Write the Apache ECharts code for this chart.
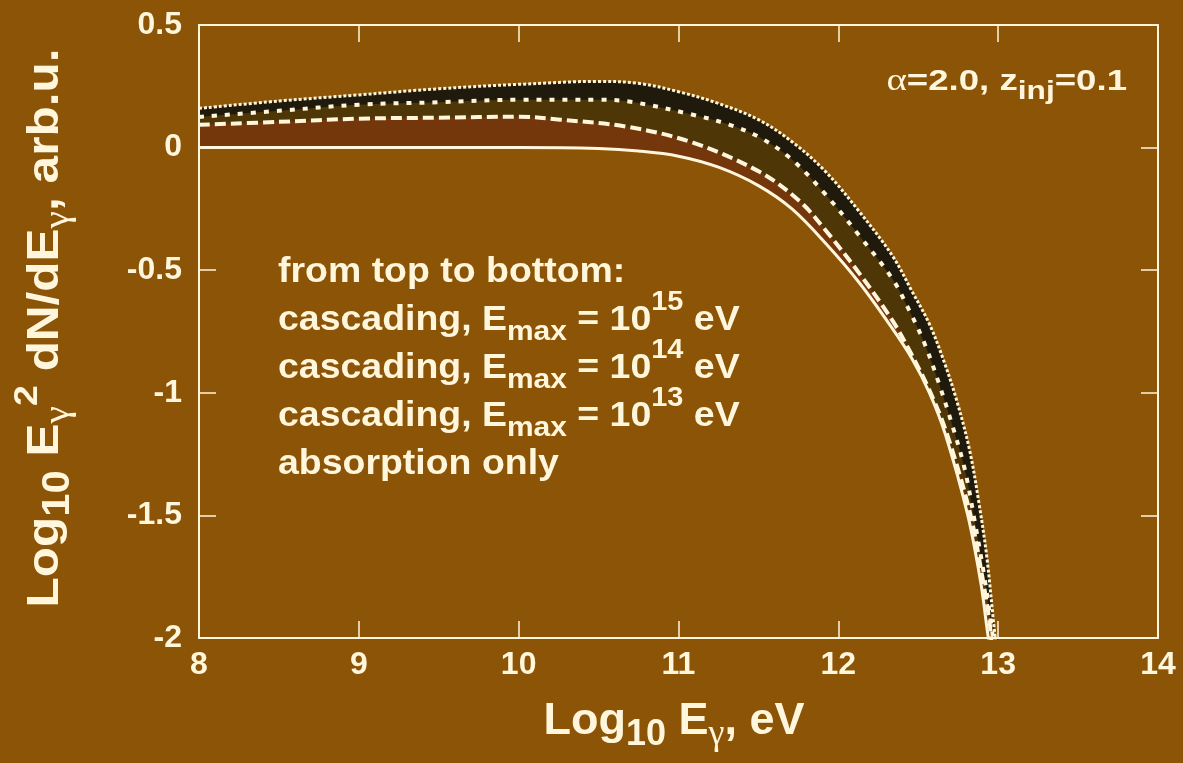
<!DOCTYPE html>
<html>
<head>
<meta charset="utf-8">
<script src="https://cdn.jsdelivr.net/npm/echarts@6/dist/echarts.min.js"></script>
<style>
html,body{margin:0;padding:0;background:#8b5406;}
#chart{width:1183px;height:763px;}
</style>
</head>
<body>
<div id="chart"></div>
<script>
// ---- data ----
const xTicks = [8, 9, 10, 11, 12, 13, 14];
const yTicks = [-2, -1.5, -1, -0.5, 0, 0.5];

// cascading, Emax = 1e15 eV (top, dotted)
const e15X = [8, 8.5, 9, 9.5, 10, 10.5, 10.75, 11, 11.25, 11.5, 11.71, 11.92, 12.13, 12.34, 12.46, 12.57, 12.66, 12.74, 12.82, 12.88, 12.93, 12.975, 13.0];
const e15Y = [0.16, 0.19, 0.215, 0.24, 0.258, 0.27, 0.262, 0.228, 0.18, 0.114, 0.024, -0.098, -0.26, -0.443, -0.585, -0.72, -0.87, -1.03, -1.23, -1.45, -1.675, -1.96, -2.1];

// cascading, Emax = 1e14 eV (short dashes)
const e14X = [8, 8.5, 9, 9.5, 10, 10.5, 10.7, 11.09, 11.32, 11.51, 11.71, 11.92, 12.13, 12.34, 12.44, 12.54, 12.63, 12.71, 12.79, 12.85, 12.91, 12.96, 12.985];
const e14Y = [0.125, 0.15, 0.175, 0.185, 0.195, 0.195, 0.187, 0.134, 0.093, 0.041, -0.049, -0.191, -0.358, -0.537, -0.659, -0.80, -0.963, -1.126, -1.309, -1.512, -1.736, -1.96, -2.1];

// cascading, Emax = 1e13 eV (long dashes)
const e13X = [8, 8.5, 9, 9.5, 10, 10.26, 10.68, 11.09, 11.51, 11.76, 11.92, 12.13, 12.34, 12.46, 12.57, 12.675, 12.82, 12.9, 12.945, 12.97];
const e13Y = [0.093, 0.105, 0.118, 0.122, 0.126, 0.114, 0.085, 0.02, -0.10, -0.22, -0.337, -0.512, -0.707, -0.846, -0.99, -1.159, -1.48, -1.748, -1.93, -2.1];

// absorption only (solid)
const absX = [8, 9, 10, 10.5, 10.75, 11.0, 11.25, 11.5, 11.71, 11.92, 12.13, 12.33, 12.46, 12.57, 12.67, 12.81, 12.89, 12.93, 12.96];
const absY = [0, 0, 0, -0.004, -0.014, -0.035, -0.08, -0.155, -0.25, -0.39, -0.55, -0.73, -0.86, -1.0, -1.17, -1.5, -1.77, -1.96, -2.1];

const legendLines = [
  'from top to bottom:',
  'cascading, E{sub|max} = 10{sup|15} eV',
  'cascading, E{sub|max} = 10{sup|14} eV',
  'cascading, E{sub|max} = 10{sup|13} eV',
  'absorption only'
];

// ---- styling ----
const BG = '#8b5406';
const INK = '#fff6dc';
const FONT = 'Liberation Sans, Arial, sans-serif';
const GREEK = 'Liberation Serif, serif';

function pairs(xs, ys) { return xs.map((x, i) => [x, ys[i]]); }

function lineSeries(name, xs, ys, dash, width, fill) {
  return {
    name: name, type: 'line', xAxisIndex: 0, yAxisIndex: 0,
    data: pairs(xs, ys),
    showSymbol: false, symbol: 'none',
    smooth: 0.35,
    clip: true,
    lineStyle: { color: INK, width: width, type: dash, cap: 'butt' },
    areaStyle: { color: fill, opacity: 1, origin: 'start' },
    z: 2
  };
}

const axisCommon = {
  type: 'value', z: 10,
  axisLine: { show: true, onZero: false, lineStyle: { color: INK, width: 2 } },
  axisTick: { show: true, inside: true, length: 17, lineStyle: { color: INK, width: 1.5 } },
  splitLine: { show: false }
};

const chart = echarts.init(document.getElementById('chart'), null, { renderer: 'canvas' });

const option = {
  animation: false,
  backgroundColor: BG,
  grid: { left: 199, right: 25, top: 25, bottom: 125, containLabel: false },
  xAxis: [
    Object.assign({}, axisCommon, {
      position: 'bottom', min: xTicks[0], max: xTicks[xTicks.length - 1], interval: 1,
      axisLabel: { color: INK, fontSize: 32, fontWeight: 'bold', fontFamily: FONT, margin: 11 }
    }),
    Object.assign({}, axisCommon, {
      position: 'top', min: xTicks[0], max: xTicks[xTicks.length - 1], interval: 1,
      axisLabel: { show: false }
    })
  ],
  yAxis: [
    Object.assign({}, axisCommon, {
      position: 'left', min: yTicks[0], max: yTicks[yTicks.length - 1], interval: 0.5,
      axisLabel: { color: INK, fontSize: 32, fontWeight: 'bold', fontFamily: FONT, margin: 17 }
    }),
    Object.assign({}, axisCommon, {
      position: 'right', min: yTicks[0], max: yTicks[yTicks.length - 1], interval: 0.5,
      axisLabel: { show: false }
    })
  ],
  series: [
    lineSeries('cascading, Emax = 10^15 eV', e15X, e15Y, [3, 2], 3, '#1f1a0b'),
    lineSeries('cascading, Emax = 10^14 eV', e14X, e14Y, [5, 8], 4, '#4f3607'),
    lineSeries('cascading, Emax = 10^13 eV', e13X, e13Y, [11, 5], 4, '#74360b'),
    lineSeries('absorption only', absX, absY, 'solid', 3, BG)
  ],
  graphic: [
    {
      type: 'text', x: 46, y: 328, rotation: Math.PI / 2, z: 100, scaleX: 1.1,
      style: {
        text: 'Log{sub|10} E{g|γ}{sup|2} dN/dE{g|γ}, arb.u.',
        fill: INK, fontSize: 45, fontWeight: 'bold', fontFamily: FONT,
        align: 'center', verticalAlign: 'middle', lineHeight: 60,
        rich: {
          sub: { fontSize: 38, fontWeight: 'bold', fontFamily: FONT, fill: INK, padding: [26, 0, 0, 0], lineHeight: 60 },
          g: { fontSize: 36, fontWeight: 'normal', fontFamily: GREEK, fill: INK, padding: [26, 0, 0, 0], lineHeight: 60 },
          sup: { fontSize: 34, fontWeight: 'bold', fontFamily: FONT, fill: INK, padding: [0, 0, 36, 0], lineHeight: 60 }
        }
      }
    },
    {
      type: 'text', x: 674, y: 722, z: 100,
      style: {
        text: 'Log{sub|10} E{g|γ}, eV',
        fill: INK, fontSize: 45, fontWeight: 'bold', fontFamily: FONT,
        align: 'center', verticalAlign: 'middle', lineHeight: 60,
        rich: {
          sub: { fontSize: 36, fontWeight: 'bold', fontFamily: FONT, fill: INK, padding: [26, 0, 0, 0], lineHeight: 60 },
          g: { fontSize: 36, fontWeight: 'normal', fontFamily: GREEK, fill: INK, padding: [26, 0, 0, 0], lineHeight: 60 }
        }
      }
    },
    {
      type: 'text', x: 1127, y: 82, z: 100, scaleX: 1.22,
      style: {
        text: '{a|α}=2.0, z{sub|inj}=0.1',
        fill: INK, fontSize: 30, fontWeight: 'bold', fontFamily: FONT,
        align: 'right', verticalAlign: 'middle', lineHeight: 40,
        rich: {
          a: { fontSize: 32, fontWeight: 'normal', fontFamily: GREEK, fill: INK, lineHeight: 40 },
          sub: { fontSize: 26, fontWeight: 'bold', fontFamily: FONT, fill: INK, padding: [20, 0, 0, 0], lineHeight: 40 }
        }
      }
    },
    {
      type: 'text', x: 278, y: 248, z: 100, scaleX: 1.07,
      style: {
        text: legendLines.join('\n'),
        fill: INK, fontSize: 35, fontWeight: 'bold', fontFamily: FONT,
        align: 'left', verticalAlign: 'top', lineHeight: 48,
        rich: {
          sub: { fontSize: 28, fontWeight: 'bold', fontFamily: FONT, fill: INK, padding: [24, 0, 0, 0], lineHeight: 48 },
          sup: { fontSize: 27, fontWeight: 'bold', fontFamily: FONT, fill: INK, padding: [0, 0, 34, 0], lineHeight: 48 }
        }
      }
    }
  ]
};

chart.setOption(option);
</script>
</body>
</html>
